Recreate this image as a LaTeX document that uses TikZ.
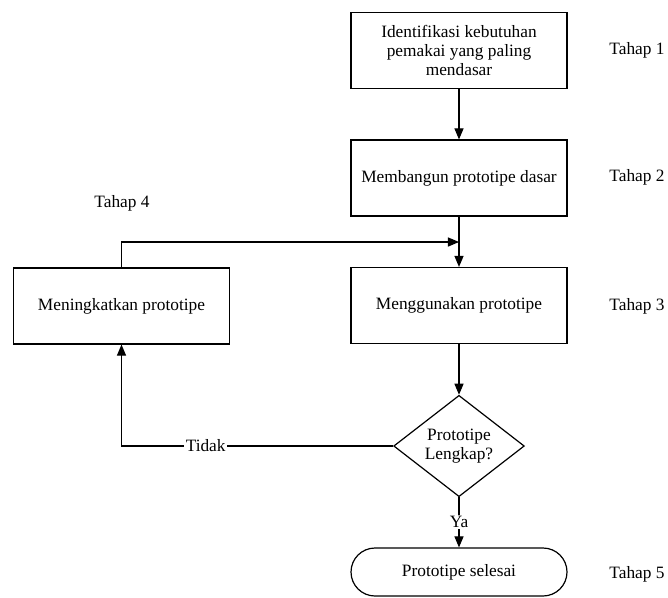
\documentclass[tikz,border=0pt]{standalone}
\usepackage{fontspec}
\setmainfont{Liberation Serif}
\usetikzlibrary{arrows,shapes.geometric,positioning}

\begin{document}
\begin{tikzpicture}[x=0.75pt,y=-0.75pt,line width=0.9pt,>=triangle 45,
        font=\fontsize{13}{14.6}\selectfont,
        langkah/.style={draw,rectangle,minimum width=162pt,minimum height=57pt,align=center},
        keputusan/.style={draw,diamond,aspect=1.28,minimum width=98pt,minimum height=76pt,inner sep=0pt,align=center},
        akhir/.style={draw,rectangle,rounded corners=18pt,minimum width=162pt,minimum height=36pt},
        tahap/.style={anchor=center},
        label/.style={fill=white,inner sep=1pt}]
            \useasboundingbox (0,0) rectangle (668,597);

            % Draw the steps
            \node[langkah] (idn) at (459,50.5) {Identifikasi kebutuhan\\pemakai yang paling\\mendasar};
            \node[langkah] (bangun) at (459,178) {Membangun prototipe dasar};
            \node[langkah] (guna) at (459,305.5) {Menggunakan prototipe};
            \node[langkah] (tingkat) at (121.5,306) {Meningkatkan prototipe};
            \node[keputusan] (cek) at (459,446) {Prototipe\\Lengkap?};
            \node[akhir] (selesai) at (459,572) {Prototipe selesai};

            % Draw the stage labels
            \foreach \y[count=\c] in {50, 177, 306}{
                \node[tahap] (t\c) at (637,\y) {Tahap \c};
            }
            \node[tahap] (t4) at (122,203) {Tahap 4};
            \node[tahap] (t5) at (637,574) {Tahap 5};

            % join point above the third step
            \coordinate (join) at (459,242);

            % Draw the flow arrows
            \draw[->] (idn) to (bangun);
            \draw[->] (bangun) to (guna);
            \draw[->] (tingkat.north) |- (join);
            \draw[->] (guna) to (cek);
            \draw[->] (cek.west) -- node[label,pos=0.69]{Tidak} (cek.west -| tingkat.south) -- (tingkat.south);
            \draw[->] (cek.south) -- node[label]{Ya} (selesai.north);
        \end{tikzpicture}
\end{document}
